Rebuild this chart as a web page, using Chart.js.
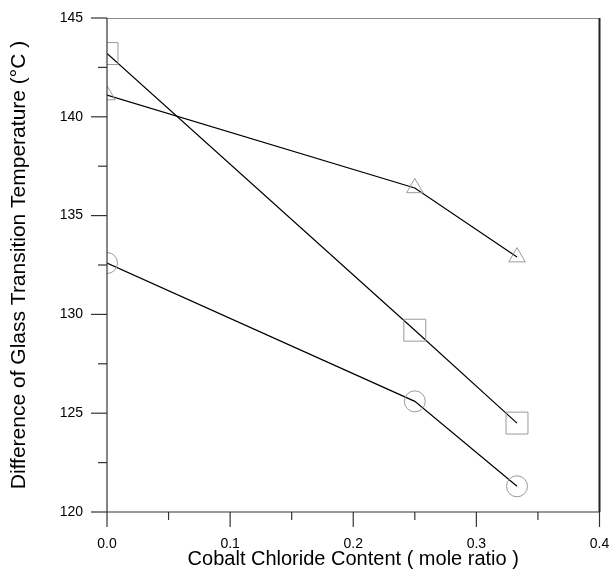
<!DOCTYPE html>
<html>
<head>
<meta charset="utf-8">
<script src="https://cdn.jsdelivr.net/npm/chart.js@4.4.1/dist/chart.umd.min.js"></script>
<style>
  html, body { margin: 0; padding: 0; background: #fff; }
  #wrap { width: 616px; height: 571px; }
</style>
</head>
<body>
<div id="wrap"><canvas id="c" width="616" height="571"></canvas></div>
<script>
// Data
const cobaltContent = [0, 0.25, 0.333];
const seriesSquare = [143.2, 129.2, 124.5];
const seriesTriangle = [141.1, 136.4, 132.9];
const seriesCircle = [132.6, 125.6, 121.3];
const xTickLabels = ['0.0', '0.1', '0.2', '0.3', '0.4'];
const yTickLabels = ['120', '125', '130', '135', '140', '145'];

const FONT = '"Liberation Sans", Arial, Helvetica, sans-serif';

function toPts(ys) { return cobaltContent.map((x, i) => ({ x: x, y: ys[i] })); }

const markerColor = '#9a9a9a';
function ds(ys, style, r) {
  return {
    data: toPts(ys),
    showLine: true,
    borderColor: '#000',
    borderWidth: 1.2,
    pointStyle: style,
    pointRadius: r,
    pointBorderColor: markerColor,
    pointBackgroundColor: 'rgba(0,0,0,0)',
    pointBorderWidth: 1,
    tension: 0
  };
}

const frameAndTicks = {
  id: 'frameAndTicks',
  afterDraw(chart) {
    const ctx = chart.ctx;
    const a = chart.chartArea;
    const xs = chart.scales.x, ys = chart.scales.y;
    ctx.save();
    ctx.strokeStyle = '#8c8c8c';
    ctx.lineWidth = 1;
    ctx.beginPath(); ctx.moveTo(a.left, a.top + 0.5); ctx.lineTo(a.right, a.top + 0.5); ctx.stroke();
    ctx.strokeStyle = '#222';
    ctx.lineWidth = 2;
    ctx.beginPath(); ctx.moveTo(a.right, a.top); ctx.lineTo(a.right, a.bottom); ctx.stroke();
    ctx.strokeStyle = '#333';
    ctx.lineWidth = 1.2;
    ctx.beginPath(); ctx.moveTo(a.left, a.top); ctx.lineTo(a.left, a.bottom); ctx.stroke();
    ctx.beginPath(); ctx.moveTo(a.left, a.bottom); ctx.lineTo(a.right, a.bottom); ctx.stroke();
    xs.ticks.forEach((t) => {
      const px = xs.getPixelForValue(t.value);
      const major = Math.abs(Math.round(t.value * 10) - t.value * 10) < 1e-6;
      const len = major ? 15 : 8;
      ctx.beginPath(); ctx.moveTo(px, a.bottom); ctx.lineTo(px, a.bottom + len); ctx.stroke();
    });
    ys.ticks.forEach((t) => {
      const py = ys.getPixelForValue(t.value);
      const major = Math.abs(t.value % 5) < 1e-6;
      const len = major ? 16 : 9;
      ctx.beginPath(); ctx.moveTo(a.left, py); ctx.lineTo(a.left - len, py); ctx.stroke();
    });
    ctx.restore();
  }
};

function zeroPad(s) { s.paddingTop = 0; s.paddingBottom = 0; s.paddingLeft = 0; s.paddingRight = 0; }

new Chart(document.getElementById('c'), {
  type: 'scatter',
  data: {
    datasets: [
      ds(seriesSquare, 'rect', 15.5),
      ds(seriesTriangle, 'triangle', 9.5),
      ds(seriesCircle, 'circle', 10.5)
    ]
  },
  options: {
    responsive: false,
    animation: false,
    devicePixelRatio: 1,
    layout: { padding: { left: 0, top: 18, right: 13, bottom: 0 } },
    plugins: { legend: { display: false }, tooltip: { enabled: false } },
    scales: {
      x: {
        type: 'linear',
        min: 0, max: 0.4,
        afterFit(s) { s.height = 59; zeroPad(s); },
        grid: { display: false, drawTicks: false },
        border: { display: false },
        ticks: {
          stepSize: 0.05,
          autoSkip: false,
          maxRotation: 0,
          padding: 24,
          color: '#000',
          font: { family: FONT, size: 14 },
          callback(v) {
            const k = Math.round(v * 10);
            return Math.abs(k - v * 10) < 1e-6 ? xTickLabels[k] : '';
          }
        },
        title: {
          display: true,
          text: 'Cobalt Chloride Content ( mole ratio )',
          color: '#000',
          font: { family: FONT, size: 20 },
          padding: { top: 0, bottom: 0 }
        }
      },
      y: {
        type: 'linear',
        min: 120, max: 145,
        afterFit(s) { s.width = 107; zeroPad(s); },
        grid: { display: false, drawTicks: false },
        border: { display: false },
        ticks: {
          stepSize: 2.5,
          autoSkip: false,
          padding: 24,
          color: '#000',
          font: { family: FONT, size: 14 },
          callback(v) {
            const k = Math.round((v - 120) / 5);
            return Math.abs((v - 120) / 5 - k) < 1e-6 ? yTickLabels[k] : '';
          }
        },
        title: {
          display: true,
          text: 'Difference of Glass Transition Temperature (°C )',
          color: '#000',
          font: { family: FONT, size: 21 },
          padding: { top: 7, bottom: 0 }
        }
      }
    }
  },
  plugins: [frameAndTicks]
});
</script>
</body>
</html>
